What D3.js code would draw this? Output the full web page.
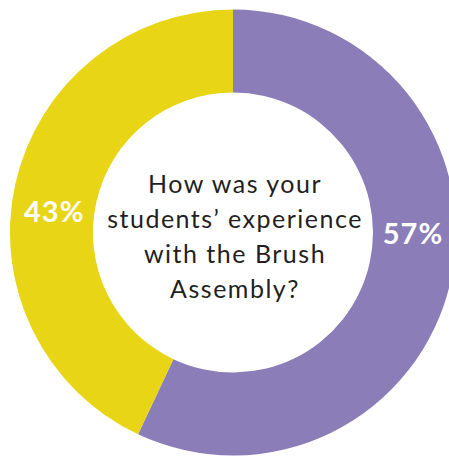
<!DOCTYPE html>
<html>
<head>
<meta charset="utf-8">
<script src="https://cdn.jsdelivr.net/npm/d3@7"></script>
<style>
  html, body { margin: 0; padding: 0; background: #ffffff; }
  svg { display: block; }
</style>
</head>
<body>
<svg id="chart" width="449" height="456"></svg>
<script>
// Data
const categories = ["Positive", "Other"];
const values = [57, 43];
const labels = ["57%", "43%"];
const colors = ["#8A7DB8", "#E8D515"];
const questionLines = ["How was your", "students\u2019 experience", "with the Brush", "Assembly?"];

const W = 449, H = 456;
const cx = 233, cy = 232.5;
const outerR = 223, innerR = 140;

const svg = d3.select("#chart");
const g = svg.append("g").attr("transform", `translate(${cx},${cy})`);

const pie = d3.pie().sort(null).value(d => d.value);
const arcs = pie(categories.map((c, i) => ({ cat: c, value: values[i], label: labels[i], color: colors[i] })));
const arc = d3.arc().innerRadius(innerR).outerRadius(outerR);

g.selectAll("path.slice")
  .data(arcs)
  .enter().append("path")
  .attr("class", "slice")
  .attr("d", arc)
  .attr("fill", d => d.data.color);

// label placement angles (radians from top, clockwise)
const labelAngle = [Math.PI * 90.3 / 180, Math.PI * 276.6 / 180];
const labelR = 180;
g.selectAll("text.pct")
  .data(arcs)
  .enter().append("text")
  .attr("class", "pct")
  .attr("x", (d, i) => labelR * Math.sin(labelAngle[i]))
  .attr("y", (d, i) => -labelR * Math.cos(labelAngle[i]))
  .attr("dy", "0.35em")
  .attr("text-anchor", "middle")
  .attr("fill", "#ffffff")
  .attr("font-family", "Lato, 'Open Sans', sans-serif")
  .attr("font-weight", 700)
  .attr("font-size", 29)
  .attr("letter-spacing", 1)
  .text(d => d.data.label);

// center question
const lineH = 35;
const baseline0 = 193 - cy;
g.append("text")
  .attr("text-anchor", "middle")
  .attr("fill", "#231F20")
  .attr("font-family", "Lato, 'Open Sans', sans-serif")
  .attr("font-size", 25)
  .attr("letter-spacing", 1.5)
  .selectAll("tspan")
  .data(questionLines)
  .enter().append("tspan")
  .attr("x", 2)
  .attr("y", (d, i) => baseline0 + i * lineH)
  .text(d => d);
</script>
</body>
</html>
